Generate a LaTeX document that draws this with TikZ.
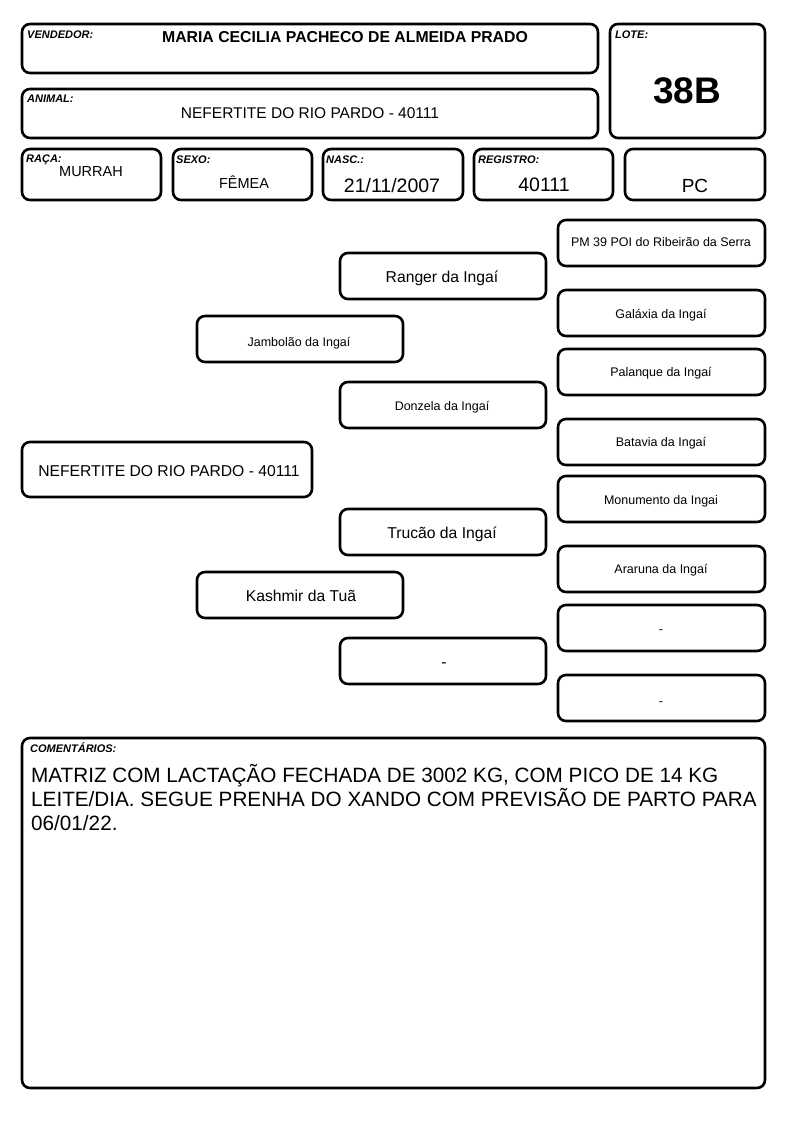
\documentclass[tikz,border=0pt]{standalone}
\usepackage{fontspec}
\setmainfont{Liberation Sans}
\newcommand{\fsz}[1]{\fontsize{#1}{#1}\selectfont}
\tikzset{
  box/.style={draw=black, line width=2.6pt, rounded corners=8pt, fill=white},
  lbl/.style={anchor=base west, inner sep=0pt, font=\fsz{11}\bfseries\itshape},
  val/.style={anchor=base, inner sep=0pt, font=\fsz{14.5}},
  big/.style={anchor=base, inner sep=0pt, font=\fsz{15.7}},
  small/.style={anchor=base, inner sep=0pt, font=\fsz{12.5}},
}
\begin{document}
\begin{tikzpicture}[x=1pt, y=-1pt]
\useasboundingbox (0,0) rectangle (794,1123);
% header
\draw [box] (22,24) rectangle (598,73);
\node (vendlbl) at (27,39) [lbl] {VENDEDOR:};
\node (vendval) at (345,43) [val, font=\fsz{15.8}\bfseries] {MARIA CECILIA PACHECO DE ALMEIDA PRADO};
\draw [box] (610,24) rectangle (765,138);
\node (lotelbl) at (615,39) [lbl] {LOTE:};
\node (loteval) at (687,104) [val, font=\fsz{37}\bfseries] {38B};
\draw [box] (22,89) rectangle (598,138);
\node (animlbl) at (27,103) [lbl] {ANIMAL:};
\node (animval) at (310,119) [val, font=\fsz{15.5}] {NEFERTITE DO RIO PARDO - 40111};
\draw [box] (22,149) rectangle (161,200);
\node (racalbl) at (26,163) [lbl] {RAÇA:};
\node (racaval) at (91,177) [val] {MURRAH};
\draw [box] (173,149) rectangle (312,200);
\node (sexolbl) at (176,164) [lbl] {SEXO:};
\node (sexoval) at (244,189) [val] {FÊMEA};
\draw [box] (323,149) rectangle (463,200);
\node (nasclbl) at (326,164) [lbl] {NASC.:};
\node (nascval) at (392,193) [val, font=\fsz{19.5}] {21/11/2007};
\draw [box] (474,149) rectangle (613,200);
\node (reglbl) at (478,164) [lbl] {REGISTRO:};
\node (regval) at (544,192) [val, font=\fsz{19.5}] {40111};
\draw [box] (625,149) rectangle (765,200);
\node (pcval) at (695,193) [val, font=\fsz{19}] {PC};
% pedigree
\draw [box] (22,442) rectangle (312,497);
\node (animal) at (169,476) [big] {NEFERTITE DO RIO PARDO - 40111};
\draw [box] (197,316) rectangle (403,362);
\node (sire) at (299,346) [small] {Jambolão da Ingaí};
\draw [box] (197,572) rectangle (403,618);
\node (dam) at (301,601) [big] {Kashmir da Tuã};
\draw [box] (340,253) rectangle (546,299);
\node (ss) at (442,282) [big] {Ranger da Ingaí};
\draw [box] (340,382) rectangle (546,428);
\node (sd) at (442,410) [small] {Donzela da Ingaí};
\draw [box] (340,509) rectangle (546,555);
\node (ds) at (442,538) [big] {Trucão da Ingaí};
\draw [box] (340,638) rectangle (546,684);
\node (dd) at (444,667) [big] {-};
\draw [box] (558,220) rectangle (765,266);
\node (sss) at (661,246) [small] {PM 39 POI do Ribeirão da Serra};
\draw [box] (558,290) rectangle (765,336);
\node (ssd) at (661,318) [small] {Galáxia da Ingaí};
\draw [box] (558,349) rectangle (765,395);
\node (sds) at (661,376) [small] {Palanque da Ingaí};
\draw [box] (558,419) rectangle (765,465);
\node (sdd) at (661,446) [small] {Batavia da Ingaí};
\draw [box] (558,476) rectangle (765,522);
\node (dss) at (661,504) [small] {Monumento da Ingai};
\draw [box] (558,546) rectangle (765,592);
\node (dsd) at (661,573) [small] {Araruna da Ingaí};
\draw [box] (558,605) rectangle (765,651);
\node (dds) at (661,633) [small] {-};
\draw [box] (558,675) rectangle (765,721);
\node (ddd) at (661,705) [small] {-};
% comments
\draw [box] (22,738) rectangle (765,1088);
\node (comlbl) at (30,752) [lbl] {COMENTÁRIOS:};
\node (com1) at (31,782) [anchor=base west, inner sep=0pt, font=\fsz{20.7}] {MATRIZ COM LACTAÇÃO FECHADA DE 3002 KG, COM PICO DE 14 KG};
\node (com2) at (31,806) [anchor=base west, inner sep=0pt, font=\fsz{20.7}] {LEITE/DIA. SEGUE PRENHA DO XANDO COM PREVISÃO DE PARTO PARA};
\node (com3) at (31,830) [anchor=base west, inner sep=0pt, font=\fsz{20.7}] {06/01/22.};
\end{tikzpicture}
\end{document}
